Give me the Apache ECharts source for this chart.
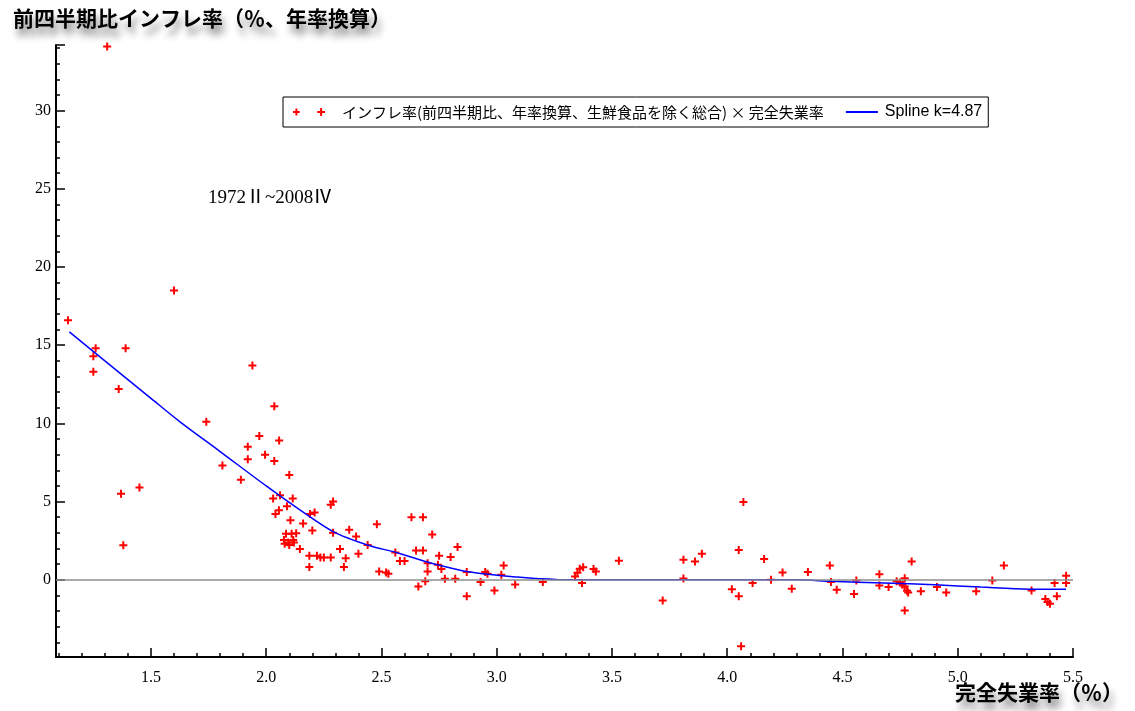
<!DOCTYPE html>
<html>
<head>
<meta charset="utf-8">
<script src="https://cdn.jsdelivr.net/npm/echarts@6/dist/echarts.min.js"></script>
<style>
    html, body { margin: 0; padding: 0; background: #fff; }
    #chart { width: 1135px; height: 711px; }
</style>
</head>
<body>
<div id="chart"></div>
<script>
// 完全失業率(%) と インフレ率(%) の組 1972II~2008IV
const points = [
    // 1.1 - 1.9
    [1.14, 16.6], [1.31, 34.1], [1.26, 14.8], [1.25, 14.3], [1.25, 13.3], [1.36, 12.2], [1.39, 14.8],
    [1.37, 5.5], [1.38, 2.2], [1.45, 5.9], [1.60, 18.5], [1.74, 10.1], [1.81, 7.3], [1.89, 6.4],
    // 1.9 - 2.1 上側
    [1.94, 13.7], [2.035, 11.1], [1.97, 9.2], [2.056, 8.9], [1.92, 8.5], [1.995, 8.0], [1.92, 7.7],
    [2.035, 7.6], [2.10, 6.7],
    // 2.0 - 2.45
    [2.03, 5.2], [2.06, 5.4], [2.115, 5.2], [2.09, 4.7], [2.055, 4.45], [2.04, 4.2], [2.105, 3.8],
    [2.16, 3.6], [2.20, 3.15], [2.19, 4.2], [2.21, 4.3], [2.28, 4.8], [2.29, 5.0], [2.29, 3.0],
    [2.36, 3.2], [2.39, 2.77], [2.44, 2.23],
    [2.086, 2.94], [2.11, 2.94], [2.13, 2.98], [2.077, 2.55], [2.096, 2.38], [2.117, 2.55],
    [2.08, 2.3], [2.10, 2.23], [2.12, 2.38],
    [2.146, 1.96], [2.187, 1.53], [2.22, 1.53], [2.235, 1.42], [2.25, 1.42], [2.28, 1.42],
    [2.187, 0.81], [2.32, 1.96], [2.345, 1.38], [2.337, 0.81], [2.40, 1.66],
    // 2.45 - 3.3
    [2.48, 3.55], [2.63, 4.0], [2.68, 4.0], [2.72, 2.9], [2.83, 2.1], [2.65, 1.87], [2.68, 1.87],
    [2.75, 1.53], [2.80, 1.45], [2.56, 1.74], [2.58, 1.2], [2.60, 1.2], [2.70, 1.06], [2.49, 0.53],
    [2.52, 0.47], [2.53, 0.38], [2.70, 0.53], [2.745, 0.96], [2.76, 0.68], [2.775, 0.06], [2.82, 0.06],
    [2.87, 0.49], [2.95, 0.49], [2.96, 0.38], [3.03, 0.91], [3.02, 0.32], [2.69, -0.1], [2.66, -0.43],
    [2.93, -0.15], [3.08, -0.3], [2.99, -0.68], [2.87, -1.06], [3.20, -0.15],
    // 3.3 - 4.4
    [3.34, 0.21], [3.35, 0.45], [3.36, 0.7], [3.375, 0.8], [3.37, -0.21], [3.42, 0.68], [3.43, 0.53],
    [3.53, 1.21], [3.72, -1.32], [3.81, 1.28], [3.81, 0.08], [3.86, 1.17], [3.89, 1.66], [4.05, 1.91],
    [4.07, 4.98], [4.02, -0.6], [4.05, -1.06], [4.06, -4.26], [4.11, -0.21], [4.16, 1.32], [4.19, 0],
    [4.24, 0.47], [4.28, -0.57], [4.35, 0.49],
    // 4.4 - 5.5
    [4.445, 0.91], [4.45, -0.15], [4.475, -0.64], [4.55, -0.91], [4.56, -0.04], [4.66, 0.36],
    [4.66, -0.36], [4.70, -0.47], [4.735, -0.1], [4.75, -0.17], [4.77, 0.1], [4.76, -0.32],
    [4.77, -0.43], [4.78, -0.7], [4.785, -0.81], [4.80, 1.17], [4.77, -1.96], [4.84, -0.74],
    [4.91, -0.47], [4.95, -0.81], [5.08, -0.74], [5.15, -0.04], [5.20, 0.91], [5.32, -0.68],
    [5.38, -1.23], [5.39, -1.43], [5.40, -1.53], [5.43, -1.06], [5.42, -0.21], [5.47, 0.26], [5.47, -0.21]
];

// スプライン (k=4.87) を図から読み取った値
const splineU = [1.146, 1.3, 1.5, 1.626, 1.8, 2.0, 2.146, 2.29, 2.45, 2.56, 2.70, 2.87, 3.09, 3.26, 3.6, 4.0, 4.31, 4.45, 4.68, 4.90, 5.10, 5.31, 5.47];
const splineV = [15.85, 14.0, 11.6, 10.1, 8.2, 6.0, 4.47, 3.08, 2.17, 1.76, 1.13, 0.53, 0.17, 0.02, 0.0, 0.0, 0.0, -0.1, -0.21, -0.32, -0.47, -0.6, -0.6];

const xLabels = [1.5, 2.0, 2.5, 3.0, 3.5, 4.0, 4.5, 5.0, 5.5];
const yLabels = [0, 5, 10, 15, 20, 25, 30];

const xMin = 1.088, xMax = 5.5;
const yMin = -4.94, yMax = 34.2;

const scatterName = 'インフレ率(前四半期比、年率換算、生鮮食品を除く総合) × 完全失業率';
const splineName = 'Spline k=4.87';

// 小目盛り
let xMinor = [];
for (let i = 11; i <= 55; i++) xMinor.push(i / 10);
let yMinor = [];
for (let i = -4; i <= 34; i++) yMinor.push(i);

const plus = 'path://M0,3H8V5H0Z M3,0H5V8H3Z';
const plusPair = 'path://M0,3H7V5H0Z M2.5,0.5H4.5V7.5H2.5Z M25,3H33V5H25Z M28,0H30V8H28Z';
const lineIcon = 'path://M0,0H34V2H0Z';

const chart = echarts.init(document.getElementById('chart'));

const axisFont = { fontFamily: 'Liberation Serif', fontSize: 16, color: '#000' };
const heavyText = {
    fontFamily: 'Noto Sans CJK JP',
    fontSize: 21,
    fontWeight: 'bold',
    color: '#000',
    textShadowColor: 'rgba(0,0,0,0.45)',
    textShadowBlur: 7,
    textShadowOffsetX: 3,
    textShadowOffsetY: 8
};

let option = {
    animation: false,
    backgroundColor: '#fff',
    title: {
        text: '前四半期比インフレ率（％、年率換算）',
        left: 8,
        top: 3,
        textStyle: heavyText
    },
    graphic: [
        {
            type: 'text',
            left: 955,
            top: 682,
            style: {
                text: '完全失業率（％）',
                font: 'bold 21px "Noto Sans CJK JP"',
                fill: '#000',
                textShadowColor: 'rgba(0,0,0,0.45)',
                textShadowBlur: 7,
                textShadowOffsetX: 3,
                textShadowOffsetY: 8
            }
        },
        {
            type: 'text',
            left: 208,
            top: 189,
            style: {
                text: '1972Ⅱ~2008Ⅳ',
                font: '19px "Liberation Serif", "Noto Sans CJK JP"',
                fill: '#000'
            }
        }
    ],
    legend: {
        left: 283,
        top: 97,
        orient: 'horizontal',
        backgroundColor: '#fff',
        borderColor: '#000',
        borderWidth: 1,
        borderRadius: 0,
        padding: [7, 6, 7, 10],
        itemGap: 22,
        itemWidth: 32,
        itemHeight: 9,
        formatter: function (name) {
            return name === scatterName ? '{s|' + name + '}' : '{t|' + name + '}';
        },
        textStyle: {
            fontFamily: 'Noto Sans CJK JP',
            fontSize: 15,
            color: '#000',
            rich: {
                s: { fontFamily: 'Noto Sans CJK JP', fontSize: 15, color: '#000', padding: [0, 0, 0, 12] },
                t: { fontFamily: 'Liberation Sans', fontSize: 16, color: '#000', padding: [0, 0, 0, 2] }
            }
        },
        data: [
            { name: scatterName, icon: plusPair },
            { name: splineName, icon: lineIcon, itemStyle: { color: '#0000ff' } }
        ]
    },
    grid: { left: 56, right: 62, top: 45, bottom: 54 },
    xAxis: [
        {
            type: 'value',
            min: xMin,
            max: xMax,
            position: 'bottom',
            axisLine: { show: true, onZero: false, lineStyle: { color: '#000', width: 2 } },
            axisTick: { show: true, inside: true, length: 9, customValues: xLabels, lineStyle: { color: '#000', width: 1.5 } },
            axisLabel: Object.assign({ customValues: xLabels, margin: 13, formatter: v => v.toFixed(1) }, axisFont),
            splitLine: { show: false }
        },
        {
            type: 'value',
            min: xMin,
            max: xMax,
            position: 'bottom',
            axisLine: { show: false, onZero: false },
            axisTick: { show: true, inside: true, length: 4, customValues: xMinor, lineStyle: { color: '#000', width: 1.5 } },
            axisLabel: { show: false },
            splitLine: { show: false }
        }
    ],
    yAxis: [
        {
            type: 'value',
            min: yMin,
            max: yMax,
            position: 'left',
            axisLine: { show: true, onZero: false, lineStyle: { color: '#000', width: 2 } },
            axisTick: { show: true, inside: true, length: 9, customValues: yLabels.concat([yMax]), lineStyle: { color: '#000', width: 1.5 } },
            axisLabel: Object.assign({ customValues: yLabels, margin: 5 }, axisFont),
            splitLine: { show: false }
        },
        {
            type: 'value',
            min: yMin,
            max: yMax,
            position: 'left',
            axisLine: { show: false, onZero: false },
            axisTick: { show: true, inside: true, length: 4, customValues: yMinor, lineStyle: { color: '#000', width: 1.5 } },
            axisLabel: { show: false },
            splitLine: { show: false }
        }
    ],
    series: [
        {
            name: scatterName,
            type: 'scatter',
            xAxisIndex: 0,
            yAxisIndex: 0,
            symbol: plus,
            symbolSize: 8,
            clip: false,
            itemStyle: { color: '#ff0000', opacity: 1 },
            data: points,
            z: 3,
            markLine: {
                silent: true,
                symbol: 'none',
                label: { show: false },
                lineStyle: { color: '#8c8c8c', width: 1.5, type: 'solid' },
                data: [{ yAxis: 0 }]
            }
        },
        {
            name: splineName,
            type: 'line',
            xAxisIndex: 0,
            yAxisIndex: 0,
            smooth: 0.3,
            showSymbol: false,
            symbol: 'none',
            lineStyle: { color: '#0000ff', width: 1.5 },
            itemStyle: { color: '#0000ff' },
            data: splineU.map((u, i) => [u, splineV[i]]),
            z: 4
        }
    ]
};
chart.setOption(option);
</script>
</body>
</html>
